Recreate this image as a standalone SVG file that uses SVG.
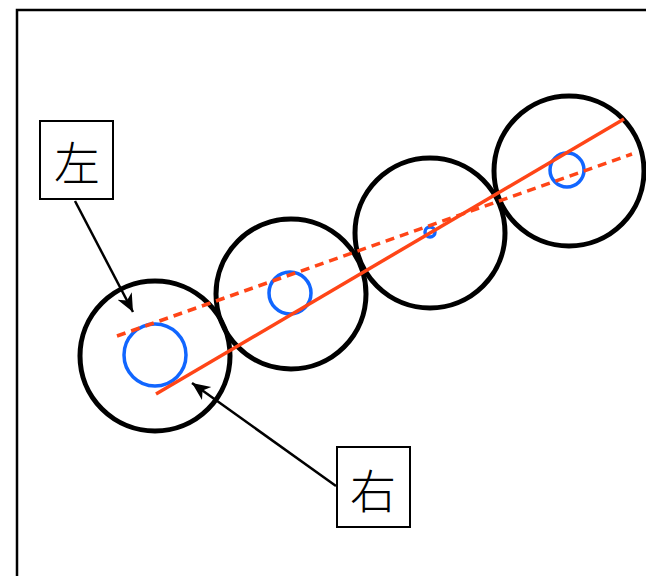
<svg xmlns="http://www.w3.org/2000/svg" width="646" height="576" viewBox="0 0 646 576">
<style>
.big{fill:none;stroke:#000;stroke-width:5}
.small{fill:none;stroke:#1166ff;stroke-width:3.5}
.box{fill:#fff;stroke:#000;stroke-width:2}
.lbl{font-family:"Noto Sans CJK JP","Noto Sans CJK SC",sans-serif;font-size:46px;font-weight:300;fill:#000;text-anchor:middle;dominant-baseline:central}
.red{stroke:#ff4517;stroke-width:3.5;fill:none}
.arrow{stroke:#000;stroke-width:2.5;fill:none;marker-end:url(#ah)}
</style>
<defs>
<marker id="ah" markerUnits="userSpaceOnUse" markerWidth="22" markerHeight="18" refX="18" refY="8" orient="auto" viewBox="0 0 22 18">
<path d="M0,0 L18,8 L0,16 L5,8 z" fill="#000"/>
</marker>
</defs>
<rect width="646" height="576" fill="#fff"/>
<rect x="17" y="10" width="640" height="580" fill="none" stroke="#000" stroke-width="2.5"/>
<g id="wheel1"><circle class="big" cx="155" cy="356" r="75"/><circle class="small" cx="155" cy="355" r="31"/></g>
<g id="wheel2"><circle class="big" cx="291" cy="294" r="75"/><circle class="small" cx="290" cy="293" r="21"/></g>
<g id="wheel3"><circle class="big" cx="430" cy="233" r="75"/><circle class="small" cx="430" cy="232" r="5"/></g>
<g id="wheel4"><circle class="big" cx="569" cy="171" r="75"/><circle class="small" cx="567" cy="170" r="17"/></g>
<g id="lines">
<line class="red" x1="156" y1="394" x2="624" y2="119"/>
<line class="red" x1="117" y1="336" x2="632" y2="154" stroke-dasharray="9,6"/>
</g>
<g id="label-left"><rect class="box" x="40" y="121" width="73" height="78"/><text class="lbl" x="77" y="160">左</text></g>
<g id="label-right"><rect class="box" x="337" y="447" width="73" height="80"/><text class="lbl" x="373" y="488">右</text></g>
<g id="connectors">
<line class="arrow" x1="75" y1="201" x2="133" y2="312"/>
<line class="arrow" x1="336" y1="486" x2="192" y2="383"/>
</g>
</svg>
